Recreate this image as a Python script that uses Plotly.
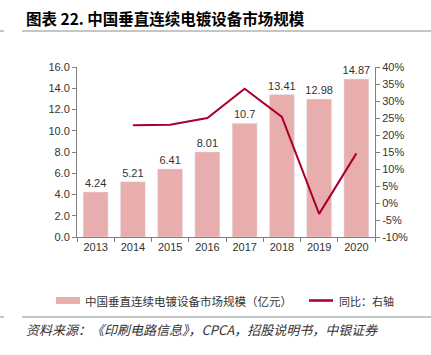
import plotly.graph_objects as go

years = ["2013", "2014", "2015", "2016", "2017", "2018", "2019", "2020"]
market = [4.24, 5.21, 6.41, 8.01, 10.7, 13.41, 12.98, 14.87]
yoy = [None, 22.9, 23.0, 25.0, 33.6, 25.3, -3.2, 14.6]
left_ticks = [0, 2, 4, 6, 8, 10, 12, 14, 16]
right_ticks = [-10, -5, 0, 5, 10, 15, 20, 25, 30, 35, 40]

bar_color = "#E8AEAE"
line_color = "#A8002A"
axis_color = "#7F7F7F"
font_main = "Arial, Liberation Sans, sans-serif"
cjk = "Noto Sans CJK SC"

# plot area: x 77..375 px, y 67..237 px
W, H = 298.0, 170.0
def px(x):
    return (x - 77) / W
def py(y):
    return (237 - y) / H

fig = go.Figure()
fig.add_trace(go.Bar(
    x=years, y=market, marker_color=bar_color, showlegend=False,
    text=[f"{v:g}" for v in market], textposition="outside",
    textfont=dict(size=11, color="#333333", family=font_main),
    constraintext="none", cliponaxis=False,
))
fig.add_trace(go.Scatter(
    x=years, y=yoy, yaxis="y2", mode="lines", showlegend=False,
    line=dict(color=line_color, width=2), connectgaps=False,
))

grey = dict(color="#8C8C8C", width=1)
shapes = [
    dict(type="line", xref="paper", yref="paper", x0=px(22), x1=px(431), y0=py(31), y1=py(31), line=grey),
    dict(type="line", xref="paper", yref="paper", x0=px(0), x1=px(4), y0=py(31), y1=py(31), line=grey),
    dict(type="line", xref="paper", yref="paper", x0=px(22), x1=px(431), y0=py(317), y1=py(317), line=grey),
    dict(type="line", xref="paper", yref="paper", x0=px(0), x1=px(4), y0=py(317), y1=py(317), line=grey),
    # legend swatches
    dict(type="rect", xref="paper", yref="paper", x0=px(56), x1=px(80), y0=py(297), y1=py(304),
         fillcolor=bar_color, line=dict(width=0)),
    dict(type="line", xref="paper", yref="paper", x0=px(309), x1=px(333), y0=py(300.5), y1=py(300.5),
         line=dict(color=line_color, width=2.5)),
]

annotations = [
    dict(text="<b>图表 22. 中国垂直连续电镀设备市场规模</b>", xref="paper", yref="paper",
         x=px(24), y=py(18), xanchor="left", yanchor="middle", showarrow=False,
         font=dict(family=cjk, size=15.5, color="#000000")),
    dict(text="中国垂直连续电镀设备市场规模（亿元）", xref="paper", yref="paper",
         x=px(83), y=py(300.5), xanchor="left", yanchor="middle", showarrow=False,
         font=dict(family=cjk, size=11.5, color="#333333")),
    dict(text="同比：右轴", xref="paper", yref="paper",
         x=px(337), y=py(300.5), xanchor="left", yanchor="middle", showarrow=False,
         font=dict(family=cjk, size=11, color="#333333")),
    dict(text="<i>资料来源：《印刷电路信息》，CPCA，招股说明书，中银证券</i>", xref="paper", yref="paper",
         x=px(24), y=py(329), xanchor="left", yanchor="middle", showarrow=False,
         font=dict(family=cjk, size=13, color="#333333")),
]

fig.update_layout(
    width=431, height=355,
    margin=dict(l=77, r=56, t=67, b=118, autoexpand=False),
    paper_bgcolor="white", plot_bgcolor="white",
    bargap=0.33, showlegend=False,
    font=dict(family=font_main, size=11, color="#333333"),
    xaxis=dict(
        type="category", showline=True, linecolor=axis_color, linewidth=1,
        ticks="outside", tickson="boundaries", ticklen=4, tickcolor=axis_color,
        showgrid=False, tickfont=dict(size=11, color="#333333"),
    ),
    yaxis=dict(
        range=[0, 16], tickvals=left_ticks, ticktext=[f"{v:.1f}" for v in left_ticks],
        showline=True, linecolor=axis_color, ticks="outside", ticklen=4,
        tickcolor=axis_color, showgrid=False, zeroline=False,
    ),
    yaxis2=dict(
        range=[-10, 40], tickvals=right_ticks, ticktext=[f"{v}%" for v in right_ticks],
        overlaying="y", side="right", showline=True, linecolor=axis_color,
        ticks="outside", ticklen=4, tickcolor=axis_color, showgrid=False, zeroline=False,
    ),
    shapes=shapes,
    annotations=annotations,
)

fig.write_html("out.html", config={"displayModeBar": False},
               post_script="document.body.style.margin='0';")
